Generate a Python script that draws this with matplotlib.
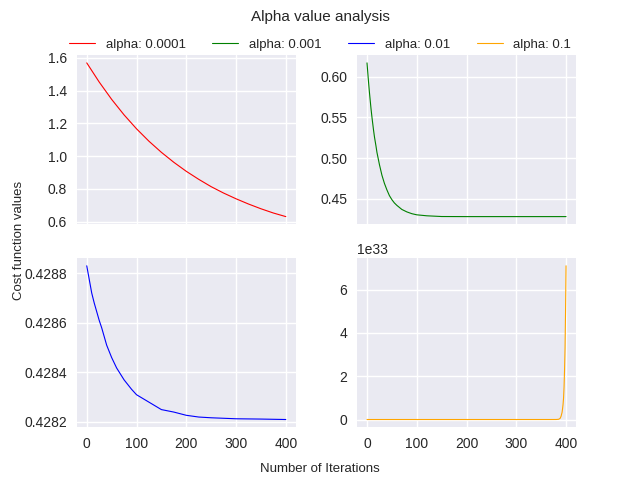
import matplotlib
matplotlib.use("Agg")
import matplotlib.pyplot as plt

plt.style.use('seaborn-v0_8')

it1 = [0, 25, 50, 75, 100, 125, 150, 175, 200, 225, 250, 275, 300, 325, 350, 375, 400]
cost1 = [1.57, 1.453, 1.347, 1.252, 1.167, 1.091, 1.023, 0.962, 0.907, 0.858, 0.813,
         0.774, 0.739, 0.707, 0.678, 0.652, 0.63]

it2 = [0, 3, 5, 8, 10, 13, 15, 18, 20, 25, 30, 35, 40, 45, 50, 55, 60, 70, 80, 90,
       100, 120, 150, 200, 300, 400]
cost2 = [0.617, 0.594, 0.580, 0.561, 0.550, 0.535, 0.526, 0.515, 0.507, 0.492,
         0.479, 0.469, 0.461, 0.454, 0.449, 0.445, 0.442, 0.437, 0.434, 0.4318,
         0.4304, 0.4292, 0.4283, 0.4282, 0.4282, 0.4282]

it3 = [0, 5, 10, 15, 20, 25, 30, 40, 50, 60, 75, 90, 100, 115, 125, 140, 150, 175,
       200, 225, 250, 300, 350, 400]
cost3 = [0.42883, 0.428775, 0.42872, 0.42868, 0.428645, 0.42861, 0.42858, 0.42851,
         0.42846, 0.428418, 0.42837, 0.428332, 0.42831, 0.428292, 0.42828, 0.428262,
         0.42825, 0.42824, 0.428227, 0.42822, 0.428217, 0.428213, 0.4282118, 0.42821]

it4 = [0, 100, 200, 300, 370, 380, 385, 388, 390, 392, 393, 394, 395, 396, 397, 398, 399, 400]
cost4 = [0, 0, 0, 0, 1e29, 1e30, 1e31, 5e31, 1.5e32, 3.3e32, 5e32, 7e32, 1e33,
         1.5e33, 2.3e33, 3.3e33, 5e33, 7.1e33]

fig, axes = plt.subplots(2, 2, sharex=True, figsize=(6.4, 4.8))
l1, = axes[0, 0].plot(it1, cost1, color='red', lw=0.8, label='alpha: 0.0001')
l2, = axes[0, 1].plot(it2, cost2, color='green', lw=0.8, label='alpha: 0.001')
l3, = axes[1, 0].plot(it3, cost3, color='blue', lw=0.8, label='alpha: 0.01')
l4, = axes[1, 1].plot(it4, cost4, color='orange', lw=0.8, label='alpha: 0.1')

axes[0, 0].set_yticks([0.6, 0.8, 1.0, 1.2, 1.4, 1.6])
axes[0, 1].set_yticks([0.45, 0.50, 0.55, 0.60])
axes[1, 0].set_yticks([0.4282, 0.4284, 0.4286, 0.4288])
axes[1, 1].set_xticks([0, 100, 200, 300, 400])

fig.suptitle('Alpha value analysis', fontsize=11)
fig.legend(handles=[l1, l2, l3, l4], loc='upper center', ncol=4,
           bbox_to_anchor=(0.5, 0.945), frameon=False, fontsize=9.5)
fig.supxlabel('Number of Iterations', fontsize=9.5)
fig.supylabel('Cost function values', fontsize=9.5)
fig.subplots_adjust(left=0.12, right=0.9, top=0.885, bottom=0.11, wspace=0.28, hspace=0.2)
plt.savefig('out.png', dpi=100)
